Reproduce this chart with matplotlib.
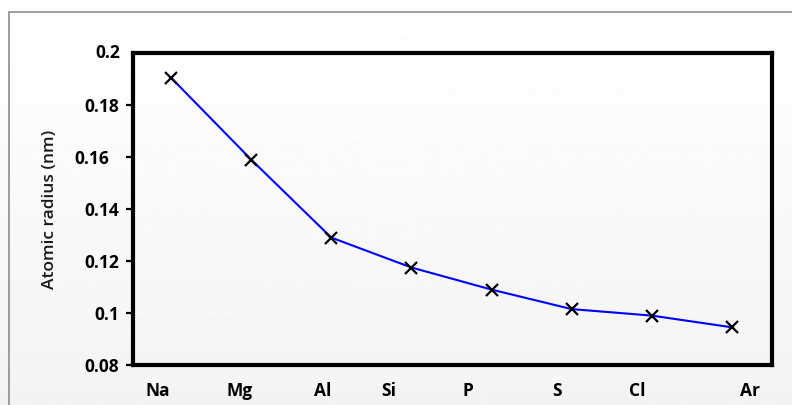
import numpy as np
import matplotlib.pyplot as plt
from matplotlib.transforms import ScaledTranslation
from matplotlib.patches import Rectangle

plt.rcParams["font.family"] = ["Open Sans", "DejaVu Sans"]

elements = ["Na", "Mg", "Al", "Si", "P", "S", "Cl", "Ar"]
radius_nm = [0.1905, 0.159, 0.129, 0.1175, 0.109, 0.1015, 0.099, 0.0945]
yticks = [0.08, 0.1, 0.12, 0.14, 0.16, 0.18, 0.2]
ytick_labels = ["0.08", "0.1", "0.12", "0.14", "0.16", "0.18", "0.2"]

fig = plt.figure(figsize=(7.92, 4.05), dpi=100)

# light gradient backdrop with grey frame
bg = fig.add_axes([0, 0, 1, 1], zorder=-10)
grad = np.linspace(1.0, 0.955, 256).reshape(-1, 1)
bg.imshow(grad, cmap="gray", vmin=0, vmax=1, aspect="auto", extent=[0, 1, 0, 1])
bg.add_patch(Rectangle((9 / 792, -0.1), 1.2, 1 - 12 / 405 + 0.1, fill=False,
                       edgecolor="#8c8c8c", linewidth=1.2, transform=bg.transAxes))
bg.set_xlim(0, 1)
bg.set_ylim(0, 1)
bg.axis("off")

ax = fig.add_axes([133 / 792, 1 - 365 / 405, (772 - 133) / 792, (365 - 53) / 405])
ax.patch.set_alpha(0)

x = np.arange(len(elements))
ax.plot(x, radius_nm, color="#0000ff", lw=1.5, marker="x", ms=9,
        mec="black", mew=1.6)

ax.set_xlim(-0.475, 7.5)
ax.set_ylim(0.08, 0.2)

for s in ax.spines.values():
    s.set_linewidth(3)
    s.set_color("black")

fs = 12.5
ax.set_yticks(yticks[:-1])
ax.set_yticklabels(ytick_labels[:-1], fontsize=fs, fontweight="bold")
ax.tick_params(axis="y", length=5, width=1.6, pad=5)
# top label without a tick mark
ax.text(-0.02, 0.2, "0.2", transform=ax.get_yaxis_transform(), ha="right",
        va="center", fontsize=fs, fontweight="bold")

ax.set_xticks(x)
ax.set_xticklabels(elements, fontsize=fs, fontweight="bold")
ax.tick_params(axis="x", length=0, pad=12)

# shift x labels to where the reference places them (pixels)
x_shift = [-13, -12, -9, -23, -24, -15, -15, 18]
for lab, dx in zip(ax.get_xticklabels(), x_shift):
    lab.set_transform(lab.get_transform() + ScaledTranslation(dx / 100, 0, fig.dpi_scale_trans))

for lab in ax.get_yticklabels():
    if lab.get_text() == "0.16":
        lab.set_transform(lab.get_transform() + ScaledTranslation(-10 / 100, 0, fig.dpi_scale_trans))

ax.set_ylabel("Atomic radius (nm)", fontsize=12.5, fontweight="semibold",
              color="#1a1a1a", labelpad=12)

fig.savefig("out.png", dpi=100)
